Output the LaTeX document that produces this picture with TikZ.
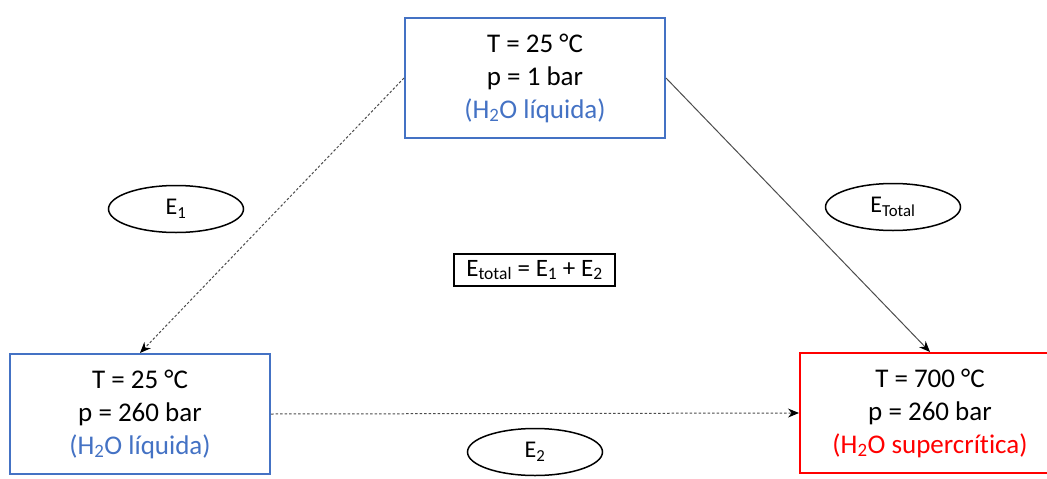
\documentclass[tikz,border=0pt]{standalone}
\usepackage{fontspec}
\setmainfont{Carlito}[Ligatures=NoCommon]
\usetikzlibrary{arrows.meta,shapes.geometric,positioning}

\definecolor{liqblue}{RGB}{68,114,196}
\definecolor{scred}{RGB}{255,0,0}

\tikzset{
  statebox/.style={draw,line width=2pt,minimum width=260pt,minimum height=120pt,align=center,font=\fontsize{27}{33}\selectfont},
  energyoval/.style={draw,ellipse,line width=1.5pt,minimum width=135pt,minimum height=47pt,inner sep=0pt,font=\fontsize{24}{28}\selectfont},
  sumbox/.style={draw,line width=1.5pt,minimum width=161pt,minimum height=32pt,inner sep=0pt,font=\fontsize{25}{29}\selectfont},
  tip/.style={-{Stealth[length=11pt,width=9pt,black]}},
  solidpath/.style={tip,line width=1pt,black!70},
  dotpath/.style={tip,line width=1pt,black!70,dash pattern=on 2.5pt off 2pt},
}

\begin{document}
\begin{tikzpicture}[x=1pt,y=-1pt]
  \useasboundingbox (0,0) rectangle (1047,479);
  % states
  \node[statebox,draw=liqblue] (start) at (535,78) {T = 25 °C\\p = 1 bar\\{\color{liqblue}(H\textsubscript{2}O líquida)}};
  \node[statebox,draw=liqblue] (press) at (140,414) {T = 25 °C\\p = 260 bar\\{\color{liqblue}(H\textsubscript{2}O líquida)}};
  \node[statebox,draw=scred] (heat) at (930,413) {T = 700 °C\\p = 260 bar\\{\color{scred}(H\textsubscript{2}O supercrítica)}};
  % energies
  \node[energyoval] (eone) at (176,209) {E\textsubscript{1}};
  \node[energyoval] (etot) at (893,207) {E\textsubscript{Total}};
  \node[energyoval] (etwo) at (535,452) {E\textsubscript{2}};
  \node[sumbox] (sum) at (534.5,270) {E\textsubscript{total} = E\textsubscript{1} + E\textsubscript{2}};
  % paths
  \draw[dotpath] (start.west) -- (press.north);
  \draw[solidpath] (start.east) -- (heat.north);
  \draw[dotpath] (press.east) -- (heat.west);
\end{tikzpicture}
\end{document}
